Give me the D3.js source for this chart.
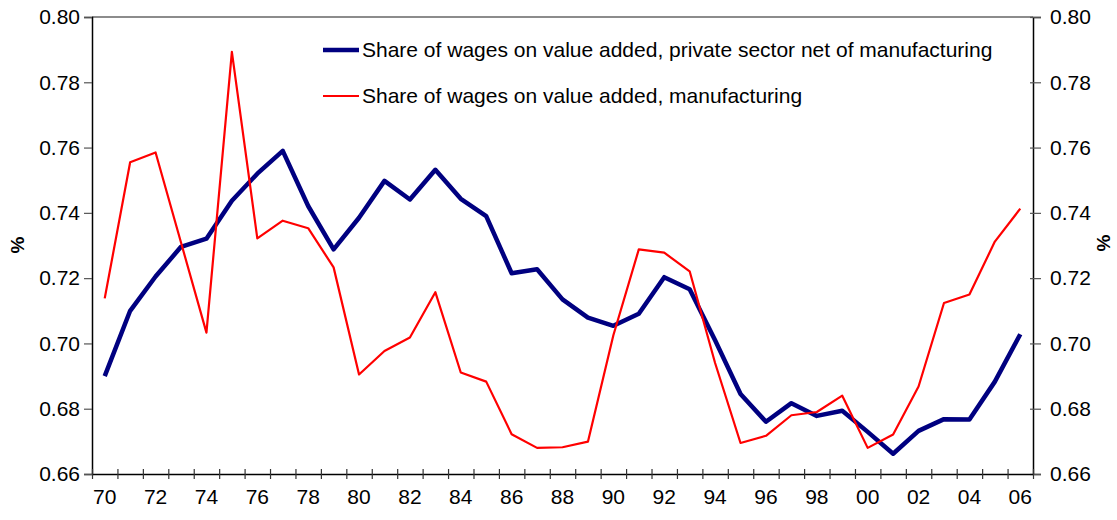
<!DOCTYPE html>
<html>
<head>
<meta charset="utf-8">
<script src="https://cdn.jsdelivr.net/npm/d3@7"></script>
<style>
  body { margin: 0; background: #fff; }
  text { font-family: "Liberation Sans", Arial, sans-serif; }
</style>
</head>
<body>
<svg id="chart"></svg>
<script>
// Years 1970-2006, labels shown as two digits
const years = d3.range(1970, 2007);
const yTicks = [0.66, 0.68, 0.70, 0.72, 0.74, 0.76, 0.78, 0.80];

// Share of wages on value added, private sector net of manufacturing
const privateNetMfg = [
  0.690, 0.710, 0.7205, 0.7296, 0.7321, 0.7437, 0.752, 0.759, 0.7421, 0.7288,
  0.7385, 0.7498, 0.7441, 0.7532, 0.7443, 0.739, 0.7215, 0.7227, 0.7135, 0.7079,
  0.7054, 0.7091, 0.7203, 0.7166, 0.7010, 0.6845, 0.676, 0.6817, 0.6778, 0.6794,
  0.6729, 0.6662, 0.6732, 0.6768, 0.6767, 0.6883, 0.7028
];

// Share of wages on value added, manufacturing
const manufacturing = [
  0.7138, 0.7555, 0.7585, 0.7309, 0.7033, 0.7893, 0.7322, 0.7376, 0.7353, 0.7233,
  0.6905, 0.6977, 0.7018, 0.7157, 0.6911, 0.6883, 0.6722, 0.668, 0.6682, 0.6699,
  0.7025, 0.7288, 0.7278, 0.7221, 0.694, 0.6695, 0.6717, 0.678, 0.679, 0.684,
  0.668, 0.6721, 0.6868, 0.7124, 0.715, 0.7312, 0.7413
];

const series = [
  { name: "Share of wages on value added, private sector net of manufacturing", values: privateNetMfg, color: "#000080", width: 4.5 },
  { name: "Share of wages on value added, manufacturing", values: manufacturing, color: "#ff0000", width: 2.2 }
];

const width = 1117, height = 520;
const margin = { top: 17, right: 84, bottom: 46, left: 92 };
const innerW = width - margin.left - margin.right;
const innerH = height - margin.top - margin.bottom;

let svg = d3.select("svg#chart")
  .attr("width", width)
  .attr("height", height);

let g = svg.append("g")
  .attr("transform", `translate(${margin.left},${margin.top})`);

let xScale = d3.scaleBand().domain(years).range([0, innerW]).padding(0);
let xEdge = d3.scaleLinear().domain([0, years.length]).range([0, innerW]);
let yScale = d3.scaleLinear().domain([0.66, 0.80]).range([innerH, 0]);

// top frame line
g.append("line")
  .attr("x1", 0).attr("x2", innerW)
  .attr("y1", 0).attr("y2", 0)
  .attr("stroke", "#666").attr("stroke-width", 1.5);

// left axis
let yAxisL = g.append("g").call(d3.axisLeft(yScale).tickValues(yTicks).tickSize(8).tickFormat(d3.format(".2f")));
yAxisL.select(".domain").attr("stroke", "#000").attr("stroke-width", 1.5);
yAxisL.selectAll(".tick line").attr("stroke", "#555").attr("stroke-width", 1.2);
yAxisL.selectAll(".tick text").attr("x", -12).style("font-size", "21px").attr("fill", "#000");

// right axis
let yAxisR = g.append("g").attr("transform", `translate(${innerW},0)`)
  .call(d3.axisRight(yScale).tickValues(yTicks).tickSize(8).tickFormat(d3.format(".2f")));
yAxisR.select(".domain").attr("stroke", "#000").attr("stroke-width", 1.5);
yAxisR.selectAll(".tick line").attr("x1", -3).attr("stroke", "#555").attr("stroke-width", 1.2);
yAxisR.selectAll(".tick text").attr("x", 17).style("font-size", "21px").attr("fill", "#000");

// bottom axis: ticks at category boundaries, labels at centres of even years
let xAxisG = g.append("g").attr("transform", `translate(0,${innerH})`)
  .call(d3.axisBottom(xEdge).tickValues(d3.range(0, years.length + 1)).tickSize(0).tickFormat(""));
xAxisG.select(".domain").attr("stroke", "#000").attr("stroke-width", 1.5);
xAxisG.selectAll(".tick line").attr("y1", -5).attr("y2", 5).attr("stroke", "#333").attr("stroke-width", 1.2);

let xLabels = g.append("g").attr("transform", `translate(0,${innerH})`)
  .call(d3.axisBottom(xScale).tickValues(years.filter(y => y % 2 === 0)).tickSize(0)
    .tickFormat(y => String(y).slice(2)));
xLabels.select(".domain").remove();
xLabels.selectAll(".tick text").attr("y", 15).style("font-size", "21px").attr("fill", "#000");

// axis titles
svg.append("text")
  .attr("transform", `translate(24,245) rotate(-90)`)
  .attr("text-anchor", "middle")
  .style("font-size", "19px").style("font-weight", "bold")
  .text("%");
svg.append("text")
  .attr("transform", `translate(1110,243) rotate(-90)`)
  .attr("text-anchor", "middle")
  .style("font-size", "19px").style("font-weight", "bold")
  .text("%");

// lines
const line = d3.line()
  .x((d, i) => xScale(years[i]) + xScale.bandwidth() / 2)
  .y(d => yScale(d));

g.selectAll("path.series")
  .data(series)
  .join("path")
  .attr("class", "series")
  .attr("fill", "none")
  .attr("stroke", d => d.color)
  .attr("stroke-width", d => d.width)
  .attr("stroke-linejoin", "round")
  .attr("d", d => line(d.values));

// legend
let legend = svg.append("g");
series.forEach((s, i) => {
  const ly = 50 + i * 46;
  legend.append("line")
    .attr("x1", 323).attr("x2", 359)
    .attr("y1", ly).attr("y2", ly)
    .attr("stroke", s.color).attr("stroke-width", s.width);
  legend.append("text")
    .attr("x", 362).attr("y", ly + 7)
    .style("font-size", "21px")
    .text(s.name);
});
</script>
</body>
</html>
